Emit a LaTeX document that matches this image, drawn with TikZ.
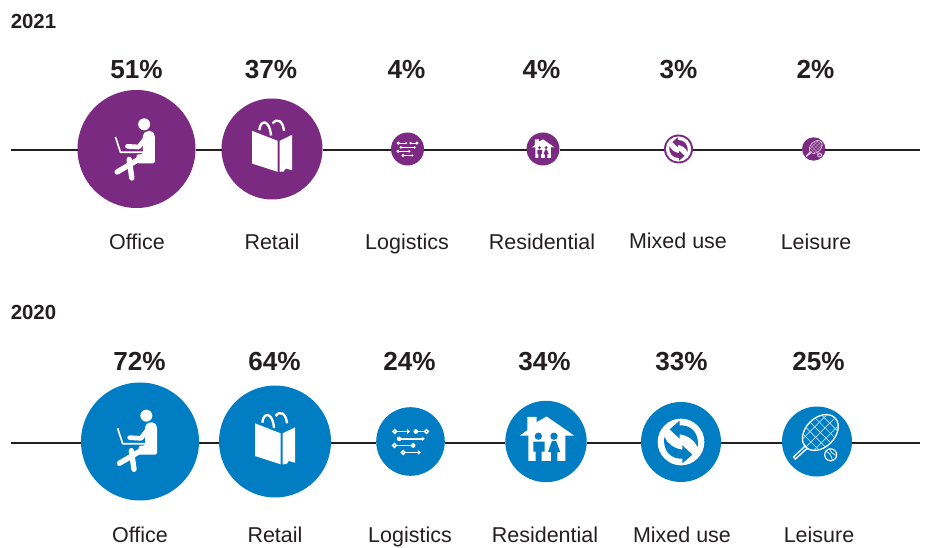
\documentclass[tikz,border=0pt]{standalone}
\usepackage{fontspec}
\setmainfont{Liberation Sans}
\definecolor{purp}{HTML}{7B2A82}
\definecolor{blu}{HTML}{007DC3}
\definecolor{ink}{HTML}{231F20}
\newcommand{\icoOffice}{%
  \fill[white] (228,107) circle (18);
  \fill[white,rounded corners=1.5pt] (224,136) -- (236,127) -- (252,127) -- (260,138) -- (260,224) -- (205,224) -- (205,197) -- (224,197) -- cycle;
  \draw[white,ln=14,line cap=round,line join=round] (237,142) -- (212,175) -- (178,173);
  \draw[white,ln=5,line join=round] (142,145) -- (157,191) -- (228,191);
  \draw[white,ln=16,line cap=round] (215,210) -- (147,250);
  \draw[white,ln=16,line cap=round] (183,212) -- (191,268);
}
\newcommand{\icoRetail}{%
  \fill[white] (555,130) -- (632,160) -- (632,253) -- (555,228) -- cycle;
  \fill[white] (638,160) -- (675,142) -- (675,248) -- (656,243) -- (650,252) -- (638,253) -- cycle;
  \draw[white,ln=7] (577,128) .. controls (580,95) and (608,95) .. (612,144);
  \draw[white,ln=7] (617,108) .. controls (630,90) and (648,100) .. (651,130);
}
\newcommand{\icoLog}{%
  \begin{scope}[white,ln=4.5]
  \draw (81,110) -- (114,110);
  \fill (112,103) -- (121,110) -- (112,117) -- cycle;
  \draw (75,110) circle (5.5);
  \fill (138,110) circle (7);
  \draw (138,110) -- (163,110);
  \draw (170,110) circle (5.5);
  \fill (88,132) circle (7);
  \draw (88,132) -- (158,132);
  \fill (156,125) -- (165,132) -- (156,139) -- cycle;
  \draw (74,152) circle (5.5);
  \draw (80,152) -- (130,152);
  \fill (130,152) circle (7);
  \draw (100,173) circle (5.5);
  \draw (106,173) -- (146,173);
  \fill (144,166) -- (153,173) -- (144,180) -- cycle;
  \end{scope}
}
\newcommand{\icoHouse}{%
  \fill[white] (472,66) -- (500,66) -- (500,82) -- (530,65) -- (612,122) -- (586,122) -- (586,198) -- (475,198) -- (475,122) -- (450,122) -- (472,106) -- cycle;
  \fill[bgc] (505,124) circle (11);
  \fill[bgc] (552,124) circle (11);
  \fill[bgc] (490,140) -- (524,140) -- (524,170) -- (515,170) -- (515,198) -- (497,198) -- (497,170) -- (490,170) -- cycle;
  \fill[bgc] (546,138) -- (558,138) -- (571,172) -- (562,172) -- (562,198) -- (543,198) -- (543,172) -- (534,172) -- cycle;
}
\newcommand{\icoMix}{%
  \fill[white] (154,140) circle (70);
  \foreach \r in {0,180}{
    \fill[bgc,rotate around={\r:(154,140)}] (120,102) -- (150,76) -- (150,90) .. controls (185,88) and (210,115) .. (204,155) .. controls (195,135) and (175,120) .. (150,117) -- (150,130) -- cycle;
  }
}
\newcommand{\icoTen}{%
  \begin{scope}[rotate around={45:(570,113)}]
    \clip (570,113) ellipse (60 and 42);
    \foreach \a in {-40,-20,0,20,40}{\draw[white!75!bgcol,ln=2] (570+\a,60) -- (570+\a,165);}
    \foreach \a in {-24,0,24}{\draw[white!75!bgcol,ln=2] (500,113+\a) -- (640,113+\a);}
  \end{scope}
  \draw[white,ln=4,rotate around={45:(570,113)}] (570,113) ellipse (62 and 44);
  \draw[white,ln=4,line join=round] (525,150) -- (520,158) -- (490,186) -- (495,193) -- (522,168) -- (532,160);
  \draw[white,ln=3.5] (601,180) circle (18);
  \draw[white,ln=2] (588,170) .. controls (600,176) and (604,184) .. (606,197);
  \draw[white,ln=2] (596,162) .. controls (600,172) and (608,178) .. (618,182);
}
\newcommand{\putIcon}[6]{% node, scale, colour, icon, zoom centre x, y
  \colorlet{bgcol}{#3}%
  \begin{scope}[shift={(#1)},bgc/.style={#3},scale=#2/3,shift={(-#5,-#6)},ln/.style={line width=##1*#2*0.25pt}]
    #4
  \end{scope}
}
\tikzset{
  bub/.style={circle,inner sep=0pt,outer sep=0pt,minimum size=#1*1.5pt},
  purpb/.style={bub=#1,fill=purp},
  blub/.style={bub=#1,fill=blu},
  lab/.style={anchor=base,inner sep=0pt,text=ink,font=\fontsize{16.1}{18}\selectfont},
  pct/.style={anchor=base,inner sep=0pt,text=ink,font=\bfseries\fontsize{19.6}{22}\selectfont},
  yr/.style={anchor=base west,inner sep=0pt,text=ink,font=\bfseries\fontsize{15.3}{18}\selectfont},
  axisline/.style={ink,line width=1.5pt}
}
\begin{document}
\begin{tikzpicture}[x=0.75pt,y=-0.75pt]
\useasboundingbox (0,0) rectangle (927,548);
% 2021
\node[yr] (y21) at (10.5,28.5) {2021};
\coordinate (s21) at (11,150);
\coordinate (e21) at (920,150);
\node[purpb=59] (a1) at (136.5,149) {};
\node[purpb=50.5] (a2) at (272,149) {};
\node[purpb=16.5] (a3) at (407.5,149) {};
\node[purpb=16.5] (a4) at (543,149) {};
\node[purpb=14.5] (a5) at (678.5,149) {};
\node[purpb=11.7] (a6) at (813.7,149) {};
\draw[axisline] (s21) -- (s21-|a1.west) (s21-|a1.east) -- (s21-|a2.west) (s21-|a2.east) -- (s21-|a3.west) (s21-|a3.east) -- (s21-|a4.west) (s21-|a4.east) -- (s21-|a5.west) (s21-|a5.east) -- (s21-|a6.west) (s21-|a6.east) -- (e21);
\putIcon{a1}{1}{purp}{\icoOffice}{205}{181}
\putIcon{a2}{1}{purp}{\icoRetail}{615}{184.5}
\putIcon{a3}{.59}{purp}{\icoLog}{122}{140}
\putIcon{a4}{.42}{purp}{\icoHouse}{530}{134}
\putIcon{a5}{.54}{purp}{\icoMix}{154}{140}
\putIcon{a6}{.36}{purp}{\icoTen}{553}{130}
\foreach \n/\x/\p in {p1/136.5/51,p2/271/37,p3/406.5/4,p4/541.5/4,p5/678.5/3,p6/815.5/2}{
  \node[pct] (\n) at (\x,78.5) {\p\%};
}
\node[lab] (l1) at (137,250) {Office};
\node[lab] (l2) at (272,250) {Retail};
\node[lab] (l3) at (407,250) {Logistics};
\node[lab] (l4) at (542,250) {Residential};
\node[lab] (l5) at (678,249) {Mixed use};
\node[lab] (l6) at (816,250) {Leisure};
% 2020
\node[yr] (y20) at (10.5,320) {2020};
\coordinate (s20) at (11,443);
\coordinate (e20) at (920,443);
\node[blub=59] (b1) at (140,441.5) {};
\node[blub=56] (b2) at (275,441.5) {};
\node[blub=34.3] (b3) at (410.5,441.5) {};
\node[blub=40.7] (b4) at (546,441.5) {};
\node[blub=40] (b5) at (681,442) {};
\node[blub=35] (b6) at (817,441.5) {};
\draw[axisline] (s20) -- (s20-|b1.west) (s20-|b1.east) -- (s20-|b2.west) (s20-|b2.east) -- (s20-|b3.west) (s20-|b3.east) -- (s20-|b4.west) (s20-|b4.east) -- (s20-|b5.west) (s20-|b5.east) -- (s20-|b6.west) (s20-|b6.east) -- (e20);
\putIcon{b1}{1}{blu}{\icoOffice}{209}{184.5}
\putIcon{b2}{1}{blu}{\icoRetail}{615}{184.5}
\putIcon{b3}{1}{blu}{\icoLog}{122}{140}
\putIcon{b4}{1}{blu}{\icoHouse}{528}{140}
\putIcon{b5}{1}{blu}{\icoMix}{154}{140}
\putIcon{b6}{1}{blu}{\icoTen}{560}{140}
\foreach \n/\x/\p in {q1/139.5/72,q2/274.5/64,q3/409.5/24,q4/544.5/34,q5/681.5/33,q6/818.5/25}{
  \node[pct] (\n) at (\x,370.5) {\p\%};
}
\node[lab] (m1) at (140,542) {Office};
\node[lab] (m2) at (275,542) {Retail};
\node[lab] (m3) at (410,542) {Logistics};
\node[lab] (m4) at (545,542) {Residential};
\node[lab] (m5) at (682,542) {Mixed use};
\node[lab] (m6) at (819,542) {Leisure};
\end{tikzpicture}
\end{document}
